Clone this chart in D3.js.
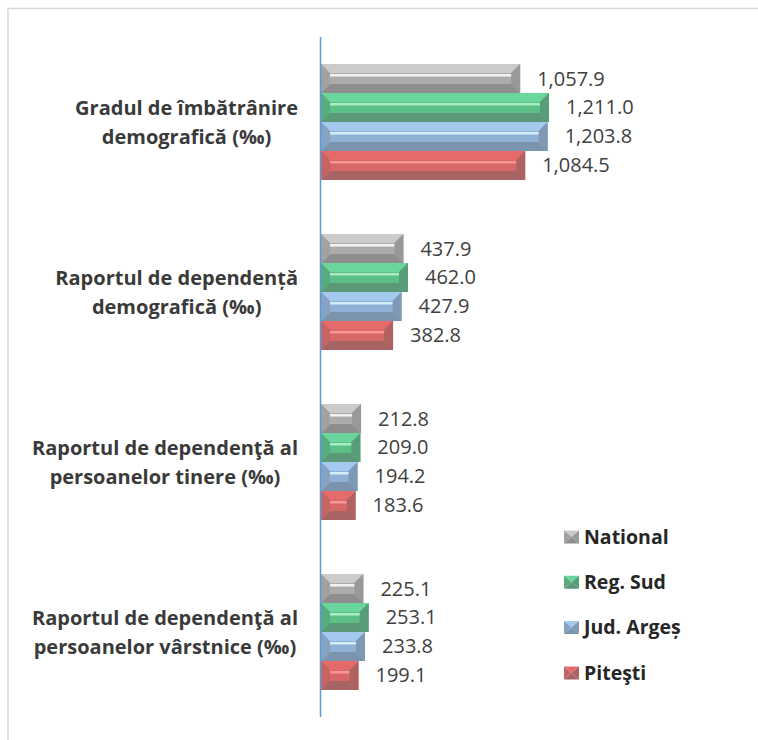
<!DOCTYPE html>
<html>
<head>
<meta charset="utf-8">
<script src="https://cdn.jsdelivr.net/npm/d3@7"></script>
<style>
	html, body { margin: 0; padding: 0; background: #fff; }
	svg { display: block; }
	text { font-family: "Open Sans", "Liberation Sans", sans-serif; }
</style>
</head>
<body>
<svg id="chart" width="758" height="740"></svg>
<script>
'use strict';

// Grouped horizontal bars with Excel-style bevelled fills.

const categories = [
	['Gradul de îmbătrânire', 'demografică (‰)'],
	['Raportul de dependență', 'demografică (‰)'],
	['Raportul de dependenţă al', 'persoanelor tinere (‰)'],
	['Raportul de dependenţă al', 'persoanelor vârstnice (‰)']
];
const seriesNames = ['National', 'Reg. Sud', 'Jud. Argeș', 'Piteşti'];
const national = [1057.9, 437.9, 212.8, 225.1];
const regSud = [1211.0, 462.0, 209.0, 253.1];
const judArges = [1203.8, 427.9, 194.2, 233.8];
const pitesti = [1084.5, 382.8, 183.6, 199.1];
const seriesValues = [national, regSud, judArges, pitesti];

// per series: top face, inner body, highlight, bottom face, side faces
const SHADES = [
	{ top: '#cbcbcb', body: '#acacac', hi: '#ffffff', bottom: '#8e8e8e', left: '#a2a2a2', right: '#999999' },
	{ top: '#6ad59c', body: '#5cbf86', hi: '#b6f5d2', bottom: '#5a9877', left: '#57ab7e', right: '#579d78' },
	{ top: '#a4c9ef', body: '#8fb1d6', hi: '#dff8ff', bottom: '#7b93ad', left: '#86a3c3', right: '#7e98b6' },
	{ top: '#e56b6b', body: '#d86868', hi: '#ff9d9d', bottom: '#a76464', left: '#c46464', right: '#b06262' }
];

const svg = d3.select('#chart');
const AXIS_X = 321;
const BEVEL = 9;

// frame of the chart area
svg.append('path')
	.attr('d', 'M8,760 V8.5 H780')
	.attr('fill', 'none')
	.attr('stroke', '#d9d9d9')
	.attr('stroke-width', 1.5);

const y = d3.scaleBand()
	.domain(d3.range(categories.length))
	.range([37, 717])
	.paddingInner(0.318)
	.paddingOuter(0.159);

const ySub = d3.scaleBand()
	.domain(d3.range(seriesNames.length))
	.range([0, y.bandwidth()]);

const x = d3.scaleLinear()
	.domain([0, 1211])
	.range([AXIS_X, 549]);

const fmt = d3.format(',.1f');

function bevelBar(g, x0, y0, w, h, s) {
	const x1 = x0 + w, y1 = y0 + h;
	const b = Math.min(BEVEL, w / 2), bv = Math.min(BEVEL, h / 2);
	const poly = (pts, fill) => g.append('polygon')
		.attr('points', pts.map(p => p.join(',')).join(' '))
		.attr('fill', fill);
	g.append('rect').attr('x', x0).attr('y', y0).attr('width', w).attr('height', h).attr('fill', s.body);
	poly([[x0, y0], [x1, y0], [x1 - b, y0 + bv], [x0 + b, y0 + bv]], s.top);
	poly([[x0, y1], [x1, y1], [x1 - b, y1 - bv], [x0 + b, y1 - bv]], s.bottom);
	poly([[x0, y0], [x0 + b, y0 + bv], [x0 + b, y1 - bv], [x0, y1]], s.left);
	poly([[x1, y0], [x1 - b, y0 + bv], [x1 - b, y1 - bv], [x1, y1]], s.right);
	// highlight streak along the upper inner edge
	if (w - 2 * b > 2) {
		g.append('rect')
			.attr('x', x0 + b).attr('y', y0 + bv + 1)
			.attr('width', w - 2 * b).attr('height', 2.5)
			.attr('fill', s.hi).attr('opacity', 0.85);
	}
}

const groups = svg.selectAll('g.group')
	.data(categories)
	.join('g')
	.attr('class', 'group')
	.attr('transform', (d, i) => `translate(0,${y(i)})`);

groups.each(function (cat, ci) {
	const g = d3.select(this);
	seriesValues.forEach((vals, si) => {
		const v = vals[ci];
		const by = ySub(si);
		bevelBar(g.append('g'), AXIS_X, by, x(v) - AXIS_X, ySub.bandwidth(), SHADES[si]);
		g.append('text')
			.attr('x', x(v) + 17)
			.attr('y', by + ySub.bandwidth() / 2)
			.attr('dy', '0.35em')
			.attr('font-size', 20)
			.attr('fill', '#404040')
			.text(fmt(v));
	});
});

// category labels: block right-aligned, lines centred in block
const LABEL_RIGHT = 298;
categories.forEach((lines, ci) => {
	const cy = y(ci) + y.bandwidth() / 2;
	const t = svg.append('text')
		.attr('font-size', 20)
		.attr('font-weight', 700)
		.attr('fill', '#3a3a3a')
		.attr('text-anchor', 'middle');
	const spans = lines.map((ln, li) => t.append('tspan')
		.attr('y', cy + (li - (lines.length - 1) / 2) * 29)
		.attr('dy', '0.35em')
		.text(ln));
	const widest = d3.max(spans, s => s.node().getComputedTextLength());
	spans.forEach(s => s.attr('x', LABEL_RIGHT - widest / 2));
});

// axis line
svg.append('line')
	.attr('x1', AXIS_X - 0.5).attr('x2', AXIS_X - 0.5)
	.attr('y1', 37).attr('y2', 717)
	.attr('stroke', '#5b9bd5')
	.attr('stroke-width', 1.5);

// legend
const legend = svg.append('g').attr('transform', 'translate(564,537)');
seriesNames.forEach((name, si) => {
	const s = SHADES[si];
	const g = legend.append('g').attr('transform', `translate(0,${si * 45.3})`);
	const w = 15, h = 13, cx = w / 2, cy = h / 2;
	const tri = (pts, fill) => g.append('polygon')
		.attr('points', pts.map(p => [p[0], p[1] - h / 2].join(',')).join(' '))
		.attr('fill', fill);
	tri([[0, 0], [w, 0], [cx, cy]], s.top);
	tri([[0, 0], [cx, cy], [0, h]], s.left);
	tri([[w, 0], [cx, cy], [w, h]], s.right);
	tri([[0, h], [cx, cy], [w, h]], s.bottom);
	g.append('text')
		.attr('x', 20)
		.attr('dy', '0.35em')
		.attr('font-size', 19.5)
		.attr('font-weight', 700)
		.attr('fill', '#262626')
		.text(name);
});
</script>
</body>
</html>
